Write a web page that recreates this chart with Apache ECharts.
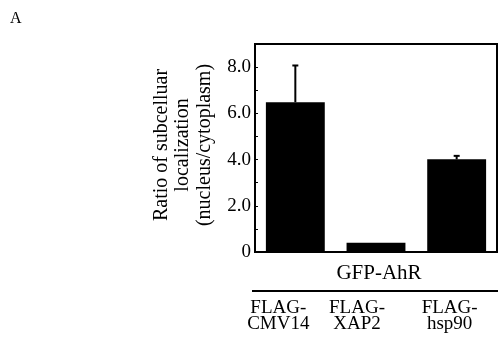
<!DOCTYPE html>
<html><head><meta charset="utf-8">
<script src="https://cdn.jsdelivr.net/npm/echarts@6/dist/echarts.min.js"></script>
<style>html,body{margin:0;padding:0;background:#fff}#c{width:498px;height:338px}</style>
</head><body><div id="c"></div>
<script>
const categories = ['FLAG-\nCMV14', 'FLAG-\nXAP2', 'FLAG-\nhsp90'];
const values = [6.48, 0.40, 4.01];
const errors = [1.59, 0, 0.15];
const yTicks = [0, 2, 4, 6, 8];
const groupLabel = 'GFP-AhR';
const yTitle = 'Ratio of subcelluar\nlocalization\n(nucleus/cytoplasm)';
const panel = 'A';

const serif = 'Liberation Serif';
const chart = echarts.init(document.getElementById('c'));
const labelOffsets = [-17, -19, -7];

chart.setOption({
  animation: false,
  grid: {left: 255, top: 44, width: 242, height: 208, show: true, borderColor: '#000', borderWidth: 2, backgroundColor: 'transparent'},
  xAxis: {
    type: 'category', data: categories,
    axisLine: {show: true, lineStyle: {color: '#000', width: 2}},
    axisTick: {show: false}, axisLabel: {show: false}, splitLine: {show: false}
  },
  yAxis: {
    type: 'value', min: 0, max: 9, interval: 1,
    name: yTitle, nameLocation: 'middle', nameRotate: 90, nameGap: 40,
    nameTextStyle: {fontFamily: serif, fontSize: 20, color: '#000', lineHeight: 21.5, padding: [0,0,0,6]},
    axisLine: {show: true, lineStyle: {color: '#000', width: 2}},
    axisTick: {show: true, inside: true, length: 3, lineStyle: {color: '#000', width: 1}},
    splitLine: {show: false},
    axisLabel: {
      fontFamily: serif, fontSize: 19, color: '#000', margin: 4,
      formatter: v => yTicks.indexOf(v) < 0 ? '' : (v === 0 ? '0' : v.toFixed(1))
    }
  },
  series: [
    {type: 'bar', data: values, barWidth: '73%', itemStyle: {color: '#000'}},
    {
      type: 'custom', z: 3,
      data: values.map((v, i) => [i, v, errors[i]]),
      renderItem: (params, api) => {
        const i = api.value(0), v = api.value(1), e = api.value(2);
        if (!e) return null;
        const p0 = api.coord([i, v]);
        const p1 = api.coord([i, v + e]);
        const hw = 3;
        return {type: 'group', children: [
          {type: 'line', shape: {x1: p0[0], y1: p0[1], x2: p1[0], y2: p1[1]}, style: {stroke: '#000', lineWidth: 2}},
          {type: 'line', shape: {x1: p1[0] - hw, y1: p1[1], x2: p1[0] + hw, y2: p1[1]}, style: {stroke: '#000', lineWidth: 2}}
        ]};
      }
    }
  ]
});

const g = [];
g.push({type: 'text', left: 10, top: 11, style: {text: panel, font: '16px "' + serif + '"', fill: '#000'}});
const cx = categories.map((c, i) => chart.convertToPixel({xAxisIndex: 0}, i));
g.push({type: 'text', x: 379, y: 273, style: {text: groupLabel, font: '21px "' + serif + '"', fill: '#000', align: 'center', verticalAlign: 'middle'}});
g.push({type: 'line', shape: {x1: 252, y1: 291, x2: 498, y2: 291}, style: {stroke: '#000', lineWidth: 2}});
categories.forEach((c, i) => {
  g.push({type: 'text', x: cx[i] + labelOffsets[i], y: 316, style: {text: c, font: '19px "' + serif + '"', fill: '#000', align: 'center', verticalAlign: 'middle', lineHeight: 16.5}});
});
chart.setOption({graphic: g});
</script></body></html>
